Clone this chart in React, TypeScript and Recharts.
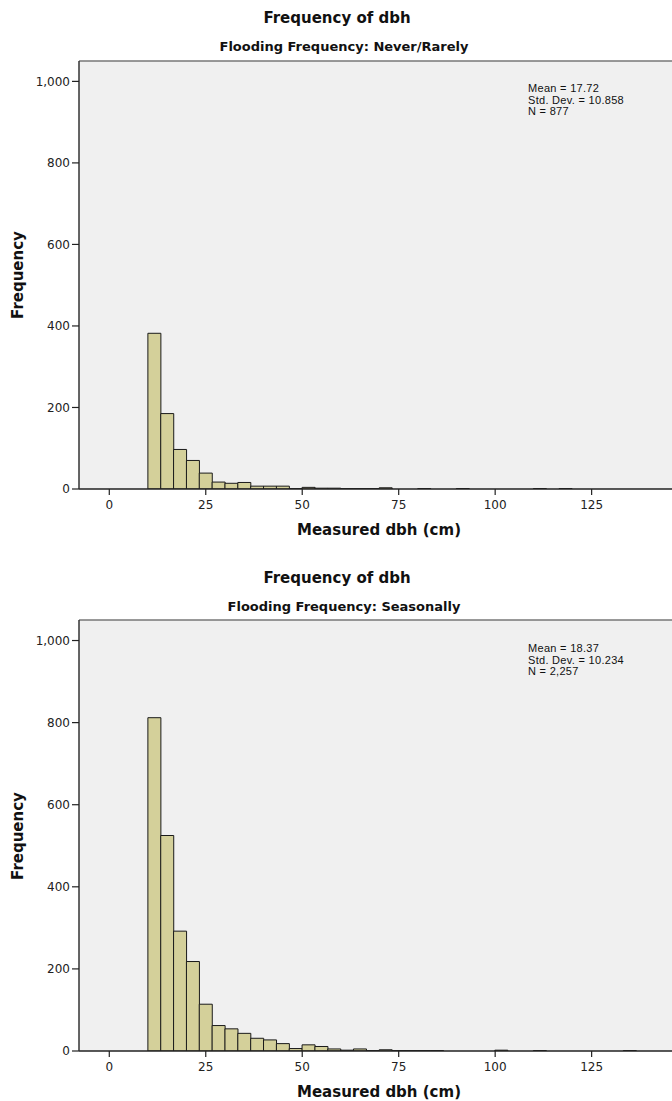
import React from "react";
import {
  ComposedChart,
  Bar,
  XAxis,
  YAxis,
  CartesianGrid,
  ReferenceLine,
} from "recharts";

// ---- data ----
const BIN_START = 10;
const BIN_WIDTH = 3.33;

const neverRarelyCounts = [
  382, 185, 97, 70, 39, 17, 14, 16, 7, 7, 7, 1, 4, 2, 2, 1, 1, 1, 3, 0, 0, 1, 0,
  0, 1, 0, 0, 0, 0, 0, 1, 0, 1,
];
const seasonallyCounts = [
  812, 525, 292, 218, 114, 62, 54, 43, 31, 27, 18, 6, 15, 11, 5, 2, 5, 1, 3, 1,
  1, 1, 1, 0, 0, 0, 0, 2, 0, 0, 1, 0, 0, 0, 0, 0, 0, 1,
];

const xTicks = [0, 25, 50, 75, 100, 125];
const yTicks = [0, 200, 400, 600, 800, 1000];

const mainTitle = "Frequency of dbh";
const neverSubtitle = "Flooding Frequency: Never/Rarely";
const seasonSubtitle = "Flooding Frequency: Seasonally";
const neverStats = ["Mean = 17.72", "Std. Dev. = 10.858", "N = 877"];
const seasonStats = ["Mean = 18.37", "Std. Dev. = 10.234", "N = 2,257"];
const xTitle = "Measured dbh (cm)";
const yTitle = "Frequency";

const X_DOMAIN: [number, number] = [-7.85, 147.9];
const Y_DOMAIN: [number, number] = [0, 1050];

const FONT = "'DejaVu Sans', Verdana, sans-serif";
const STATS_FONT = "'Liberation Sans', Arial, sans-serif";

function toRows(counts: number[]) {
  return counts.map((c, i) => ({
    x: BIN_START + (i + 0.5) * BIN_WIDTH,
    count: c,
  }));
}

type PanelProps = {
  top: number;
  plotTop: number;
  plotBottom: number;
  counts: number[];
  subtitle: string;
  stats: string[];
};

const CHART_W = 720;
const PLOT_RIGHT = 680;
const PLOT_LEFT = 79;

function Panel({ top, plotTop, plotBottom, counts, subtitle, stats }: PanelProps) {
  const rows = toRows(counts);
  const chartH = plotBottom + 30;
  const centerText = (
    text: string,
    cx: number,
    cy: number,
    size: number,
    bold: boolean,
    font: string = FONT
  ) => (
    <div
      style={{
        position: "absolute",
        left: cx - 300,
        width: 600,
        top: top + cy - size * 0.6,
        height: size * 1.2,
        lineHeight: `${size * 1.2}px`,
        textAlign: "center",
        fontFamily: font,
        fontSize: size,
        fontWeight: bold ? "bold" : "normal",
        color: "#111",
        whiteSpace: "nowrap",
      }}
    >
      {text}
    </div>
  );
  return (
    <>
      <div style={{ position: "absolute", left: 0, top, width: CHART_W, height: chartH }}>
        <ComposedChart
          width={CHART_W}
          height={chartH}
          data={rows}
          margin={{ top: plotTop, right: CHART_W - PLOT_RIGHT, left: 0, bottom: 0 }}
          barCategoryGap={0}
          barGap={0}
        >
          <CartesianGrid horizontal={false} vertical={false} fill="#f0f0f0" />
          <XAxis
            type="number"
            dataKey="x"
            domain={X_DOMAIN}
            allowDataOverflow
            ticks={xTicks}
            interval={0}
            height={30}
            tickSize={6}
            tickMargin={5}
            axisLine={{ stroke: "#222", strokeWidth: 1.5 }}
            tickLine={{ stroke: "#222", strokeWidth: 1.2 }}
            tick={{ fill: "#222", fontSize: 12, fontFamily: FONT }}
          />
          <YAxis
            type="number"
            domain={Y_DOMAIN}
            allowDataOverflow
            ticks={yTicks}
            interval={0}
            width={PLOT_LEFT}
            tickSize={7}
            tickMargin={2}
            tickFormatter={(v: number) => v.toLocaleString("en-US")}
            axisLine={{ stroke: "#333", strokeWidth: 1.5 }}
            tickLine={{ stroke: "#222", strokeWidth: 1.2 }}
            tick={{ fill: "#222", fontSize: 12, fontFamily: FONT }}
          />
          <ReferenceLine y={Y_DOMAIN[1]} stroke="#777" strokeWidth={1.5} ifOverflow="extendDomain" />
          <Bar
            dataKey="count"
            fill="#d4d09a"
            stroke="#1a1a1a"
            strokeWidth={1}
            isAnimationActive={false}
          />
        </ComposedChart>
      </div>
      {centerText(mainTitle, 337, 18, 15, true)}
      {centerText(subtitle, 344, 47, 13, true)}
      {centerText(xTitle, 379, plotBottom + 41, 15, true)}
      <div
        style={{
          position: "absolute",
          left: 18 - 60,
          width: 120,
          top: top + (plotTop + plotBottom) / 2 - 9,
          height: 18,
          lineHeight: "18px",
          textAlign: "center",
          fontFamily: FONT,
          fontSize: 15,
          fontWeight: "bold",
          color: "#111",
          transform: "rotate(-90deg)",
          whiteSpace: "nowrap",
        }}
      >
        {yTitle}
      </div>
      <div
        style={{
          position: "absolute",
          left: 528,
          top: top + 83,
          fontFamily: STATS_FONT,
          fontSize: 11,
          letterSpacing: 0.3,
          lineHeight: "11.5px",
          color: "#111",
          whiteSpace: "nowrap",
        }}
      >
        {stats.map((s) => (
          <div key={s} style={{ height: 11.5 }}>
            {s}
          </div>
        ))}
      </div>
    </>
  );
}

export default function App() {
  return (
    <div
      style={{
        position: "absolute",
        left: 0,
        top: 0,
        width: 672,
        height: 1101,
        overflow: "hidden",
        background: "#fff",
      }}
    >
      <Panel
        top={0}
        plotTop={61}
        plotBottom={489}
        counts={neverRarelyCounts}
        subtitle={neverSubtitle}
        stats={neverStats}
      />
      <Panel
        top={560}
        plotTop={60}
        plotBottom={491}
        counts={seasonallyCounts}
        subtitle={seasonSubtitle}
        stats={seasonStats}
      />
    </div>
  );
}
